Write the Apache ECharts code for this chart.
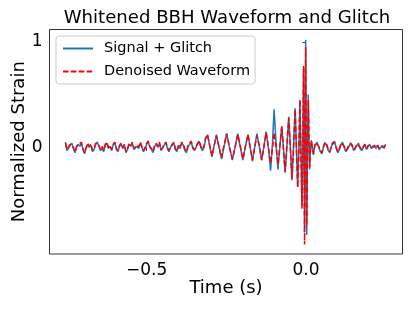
<!DOCTYPE html>
<html>
<head>
<meta charset="utf-8">
<script src="https://cdn.jsdelivr.net/npm/echarts@6/dist/echarts.min.js"></script>
<style>
html,body{margin:0;padding:0;background:#fff;}
#chart{width:415px;height:311px;}
</style>
</head>
<body>
<div id="chart"></div>
<script>
// ---- Data ----
const seriesNames = ['Signal + Glitch', 'Denoised Waveform'];
const xTickValues = [-0.5, 0];
const xTickLabels = ['\u22120.5', '0.0'];
const yTickValues = [0, 1];
const yTickLabels = ['0', '1'];

// early (noise) segment, time in s
const timeEarly = [-0.755,-0.750,-0.745,-0.740,-0.735,-0.730,-0.725,-0.720,-0.715,-0.710,
  -0.705,-0.700,-0.695,-0.690,-0.685,-0.680,-0.675,-0.670,-0.665,-0.660,
  -0.655,-0.650,-0.645,-0.640,-0.635,-0.630,-0.625,-0.620,-0.615,-0.610,
  -0.605,-0.600,-0.595,-0.590,-0.585,-0.580,-0.575,-0.570,-0.565,-0.560,
  -0.555,-0.550,-0.545,-0.540,-0.535,-0.530,-0.525,-0.520,-0.515,-0.510,
  -0.505,-0.500,-0.495,-0.490,-0.485,-0.480,-0.475,-0.470,-0.465,-0.460,
  -0.455,-0.450,-0.445,-0.440,-0.435,-0.430,-0.425,-0.420,-0.415,-0.410,
  -0.405,-0.400,-0.395,-0.390,-0.385,-0.380,-0.375,-0.370,-0.365,-0.360,
  -0.355,-0.350,-0.345,-0.340,-0.335,-0.330,-0.325];
const signalEarly = [0.05,-0.03,-0.02,0.02,0.04,-0.01,-0.05,0.00,0.03,0.01,
  0.04,-0.02,-0.06,-0.01,0.03,0.00,0.02,-0.04,-0.02,0.03,
  0.05,0.01,-0.03,0.00,-0.04,0.02,0.04,-0.01,0.01,-0.03,
  0.02,0.05,-0.02,-0.04,0.01,0.03,-0.01,0.02,-0.05,-0.02,
  0.03,0.01,0.04,-0.02,-0.03,0.01,-0.01,0.04,0.00,-0.04,
  -0.01,0.03,0.05,0.00,-0.02,-0.05,0.01,0.03,0.00,0.04,
  -0.03,-0.01,0.02,0.05,-0.01,-0.04,0.00,0.02,0.04,-0.02,
  -0.04,0.01,-0.01,0.04,0.02,-0.03,-0.05,0.01,0.03,0.05,
  -0.01,-0.03,-0.02,0.03,0.06,0.00,-0.03];
const denoisedEarly = [0.04,-0.02,-0.01,0.03,0.04,0.00,-0.04,0.01,0.03,0.02,
  0.05,-0.01,-0.05,0.00,0.04,0.01,0.03,-0.03,-0.01,0.04,
  0.05,0.02,-0.02,0.01,-0.03,0.03,0.05,0.00,0.02,-0.02,
  0.03,0.05,-0.01,-0.03,0.02,0.04,0.00,0.03,-0.04,-0.01,
  0.04,0.02,0.05,-0.01,-0.02,0.02,0.00,0.05,0.01,-0.03,
  0.00,0.04,0.06,0.01,-0.01,-0.04,0.02,0.04,0.01,0.05,
  -0.02,0.00,0.03,0.05,0.00,-0.03,0.01,0.03,0.05,-0.01,
  -0.03,0.02,0.00,0.05,0.03,-0.02,-0.04,0.02,0.04,0.06,
  0.00,-0.02,-0.01,0.04,0.06,0.01,-0.02];

// inspiral / merger segment
const timeMerger = [-0.320,-0.315,-0.309,-0.302,-0.295,-0.288,-0.281,-0.273,-0.265,-0.257,
  -0.249,-0.240,-0.231,-0.222,-0.214,-0.206,-0.198,-0.190,-0.182,-0.175,
  -0.168,-0.161,-0.154,-0.146,-0.139,-0.132,-0.125,-0.118,-0.111,-0.105,
  -0.100,-0.094,-0.088,-0.082,-0.076,-0.071,-0.0655,-0.060,-0.054,-0.049,
  -0.044,-0.039,-0.034,-0.030,-0.026,-0.022,-0.019,-0.016,-0.0125,-0.010,
  -0.0075,-0.006,-0.0044,-0.0026,-0.0009,0.0008,0.0025,0.0048,0.0072,0.0093,
  0.0115,0.014,0.0172,0.020,0.0234,0.027];
const signalMerger = [0.00,0.08,0.12,0.01,-0.09,0.02,0.12,0.00,-0.11,0.01,
  0.13,0.00,-0.12,0.01,0.13,0.00,-0.12,0.01,0.12,0.00,
  -0.13,0.00,0.13,0.00,-0.12,0.01,0.15,0.00,-0.22,0.05,
  0.36,0.05,-0.21,0.00,0.20,0.00,-0.24,0.00,0.29,0.00,
  -0.31,0.00,0.37,0.00,-0.37,0.00,0.45,0.00,-0.56,0.00,
  0.75,0.00,-0.80,0.00,1.02,0.00,-0.83,0.00,0.50,0.10,
  -0.21,-0.02,0.06,-0.01,-0.07,0.00];
const denoisedMerger = [0.01,0.09,0.12,0.02,-0.08,0.02,0.11,0.01,-0.10,0.02,
  0.13,0.00,-0.11,0.01,0.12,0.01,-0.11,0.01,0.12,0.00,
  -0.12,0.00,0.11,0.01,-0.12,0.00,0.14,0.00,-0.15,-0.01,
  0.14,0.00,-0.16,0.01,0.20,0.00,-0.23,0.01,0.28,0.00,
  -0.30,0.00,0.36,0.00,-0.38,0.00,0.45,-0.02,-0.58,0.00,
  0.77,0.00,-0.92,0.00,0.95,0.00,-0.74,0.00,0.45,0.08,
  -0.19,-0.02,0.07,-0.01,-0.06,0.01];

// ringdown / late noise segment
const timeLate = [0.030,0.035,0.040,0.045,0.050,0.055,0.060,0.065,0.070,0.075,
  0.080,0.085,0.090,0.095,0.100,0.105,0.110,0.115,0.120,0.125,
  0.130,0.135,0.140,0.145,0.150,0.155,0.160,0.165,0.170,0.175,
  0.180,0.185,0.190,0.195,0.200,0.205,0.210,0.215,0.220,0.225,
  0.230,0.235,0.240,0.245,0.250];
const signalLate = [0.03,0.05,0.00,-0.04,-0.06,0.00,0.04,0.02,-0.03,-0.05,
  0.01,0.04,0.06,-0.01,-0.05,-0.02,0.03,0.05,0.00,-0.04,
  -0.02,0.01,0.04,0.01,-0.03,-0.01,0.02,0.04,-0.01,-0.03,
  0.00,0.02,-0.02,0.01,0.03,-0.01,-0.02,0.01,-0.01,0.02,
  -0.02,0.00,0.02,-0.01,0.03];
const denoisedLate = [0.04,0.05,0.01,-0.03,-0.05,0.01,0.05,0.03,-0.02,-0.04,
  0.02,0.05,0.06,0.00,-0.04,-0.01,0.04,0.05,0.01,-0.03,
  -0.01,0.02,0.04,0.02,-0.02,0.00,0.03,0.04,0.00,-0.02,
  0.01,0.03,-0.01,0.02,0.03,0.00,-0.01,0.02,0.00,0.02,
  -0.01,0.01,0.02,0.00,0.03];

// ---- Build series pairs ----
function pairs(times, values) { return times.map((t, i) => [t, values[i]]); }
const signalData = pairs(timeEarly, signalEarly)
  .concat(pairs(timeMerger, signalMerger))
  .concat(pairs(timeLate, signalLate));
const denoisedData = pairs(timeEarly, denoisedEarly)
  .concat(pairs(timeMerger, denoisedMerger))
  .concat(pairs(timeLate, denoisedLate));

const FONT = 'DejaVu Sans';
const chart = echarts.init(document.getElementById('chart'), null, {renderer: 'canvas'});
chart.setOption({
  animation: false,
  backgroundColor: '#fff',
  title: {
    text: 'Whitened BBH Waveform and Glitch',
    left: 222, top: 4, textAlign: 'center',
    textStyle: {fontFamily: FONT, fontSize: 18.1, fontWeight: 'normal', color: '#000'}
  },
  grid: {
    left: 49.5, right: 12.5, top: 29.5, bottom: 57,
    outerBoundsMode: 'none', containLabel: false,
    show: true, borderColor: '#000', borderWidth: 0.8, backgroundColor: 'transparent'
  },
  legend: {
    orient: 'vertical', left: 56, top: 36,
    padding: [5, 5, 5, 6], itemGap: 8, itemWidth: 30, itemHeight: 14,
    backgroundColor: 'rgba(255,255,255,0.8)', borderColor: '#ccc', borderWidth: 1, borderRadius: 3,
    itemStyle: {opacity: 0},
    textStyle: {fontFamily: FONT, fontSize: 14.5, color: '#000', padding: [0, 0, 0, 6]},
    data: seriesNames
  },
  xAxis: {
    type: 'value', min: -0.805, max: 0.303,
    name: 'Time (s)', nameLocation: 'middle', nameGap: 25, nameMoveOverlap: false,
    nameTextStyle: {fontFamily: FONT, fontSize: 18, color: '#000'},
    axisLine: {show: false},
    splitLine: {show: false},
    axisTick: {show: true, length: 3.5, customValues: xTickValues, lineStyle: {color: '#000', width: 0.8}},
    axisLabel: {
      customValues: xTickValues, margin: 8,
      fontFamily: FONT, fontSize: 17, color: '#000',
      formatter: v => xTickLabels[xTickValues.indexOf(v)] ?? ''
    }
  },
  yAxis: {
    type: 'value', min: -1.01, max: 1.117,
    name: 'Normalized Strain', nameLocation: 'middle', nameGap: 21, nameMoveOverlap: false,
    nameTextStyle: {fontFamily: FONT, fontSize: 18, color: '#000'},
    axisLine: {show: false},
    splitLine: {show: false},
    axisTick: {show: true, length: 3.5, customValues: yTickValues, lineStyle: {color: '#000', width: 0.8}},
    axisLabel: {
      customValues: yTickValues, margin: 7,
      fontFamily: FONT, fontSize: 17, color: '#000',
      formatter: v => yTickLabels[yTickValues.indexOf(v)] ?? ''
    }
  },
  series: [
    {
      name: seriesNames[0], type: 'line', data: signalData, symbol: 'none',
      lineStyle: {color: '#1f77b4', width: 1.5}, itemStyle: {color: '#1f77b4'}
    },
    {
      name: seriesNames[1], type: 'line', data: denoisedData, symbol: 'none',
      lineStyle: {color: '#ff0000', width: 1.5, type: [5.5, 2.4]}, itemStyle: {color: '#ff0000'}
    }
  ]
});
</script>
</body>
</html>
